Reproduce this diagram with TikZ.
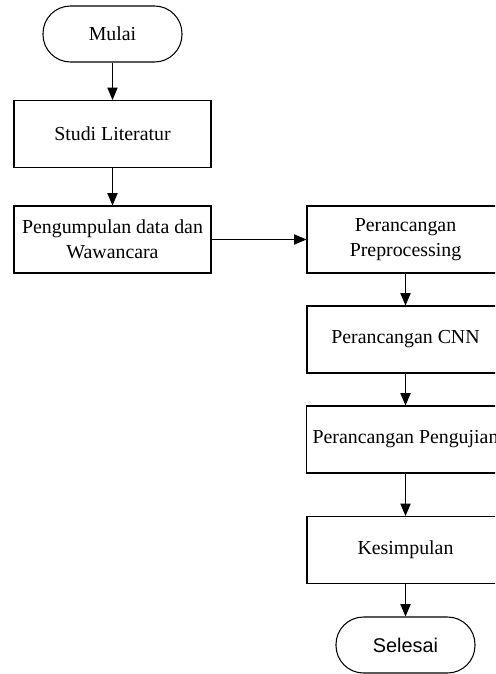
\documentclass[tikz,border=0pt]{standalone}
\usepackage{fontspec}
\setmainfont{Liberation Serif}
\setsansfont{Liberation Sans}
\usepackage{tikz}
\usetikzlibrary{shapes.geometric, arrows}
\tikzstyle{startstop} = [rectangle, rounded corners=0.55cm, minimum width=2.78cm, minimum height=1.12cm, text centered, draw=black, fill=white]
\tikzstyle{process} = [rectangle, minimum width=3.94cm, minimum height=1.34cm, align=center, draw=black, fill=white]
\tikzstyle{arrow} = [line width=0.6pt, ->, >=triangle 45]

\begin{document}
\begin{tikzpicture}[node distance=2cm, font=\fontsize{11.3}{14}\selectfont, line width=0.6pt]
        \clip (-2.25,0.68) rectangle (7.65,-12.8);

        \node (start) [startstop] {Mulai};
        \node (StudiLiteratur) [process, below of=start] {Studi Literatur};
        \node (KumpulData) [process, below of=StudiLiteratur, yshift=-0.11cm] {Pengumpulan data dan\\Wawancara};
        \node (RancangPrep) [process, right of=KumpulData, xshift=3.86cm] {Perancangan\\Preprocessing};
        \node (RancangCNN) [process, below of=RancangPrep] {Perancangan CNN};
        \node (RancangUji) [process, below of=RancangCNN] {Perancangan Pengujian};
        \node (Kesimpulan) [process, below of=RancangUji, yshift=-0.21cm] {Kesimpulan};
        \node (stop) [startstop, below of=Kesimpulan, yshift=0.1cm, font=\sffamily\fontsize{11.3}{14}\selectfont] {Selesai};

        \draw [arrow] (start) -- (StudiLiteratur);
        \draw [arrow] (StudiLiteratur) -- (KumpulData);
        \draw [arrow] (KumpulData) -- (RancangPrep);
        \draw [arrow] (RancangPrep) -- (RancangCNN);
        \draw [arrow] (RancangCNN) -- (RancangUji);
        \draw [arrow] (RancangUji) -- (Kesimpulan);
        \draw [arrow] (Kesimpulan) -- (stop);

      \end{tikzpicture}
\end{document}
